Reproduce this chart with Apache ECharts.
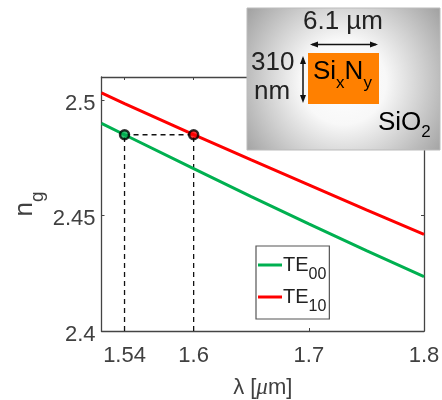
<!DOCTYPE html>
<html><head><meta charset="utf-8">
<style>html,body{margin:0;padding:0;background:#fff}#c{width:442px;height:400px}</style>
<script src="https://cdn.jsdelivr.net/npm/echarts@6/dist/echarts.min.js"></script>
</head><body><div id="c"></div>
<script>
const wavelengths = [1.52, 1.54, 1.6, 1.65, 1.7, 1.75, 1.8];
const te00 = [2.4899, 2.485, 2.4703, 2.4582, 2.4464, 2.4348, 2.4235];
const te10 = [2.5031, 2.4985, 2.485, 2.4741, 2.4633, 2.4525, 2.4418];
const xTicks = [1.54, 1.6, 1.7, 1.8];
const yTicks = [2.4, 2.45, 2.5];
const markerX = [1.54, 1.6];
const markerY = 2.485;
const yBottom = 2.4;
const pair = (xs, ys) => xs.map((x, i) => [x, ys[i]]);
const font = 'Liberation Sans';
const chart = echarts.init(document.getElementById('c'), null, {renderer: 'canvas'});
const dash = d => ({type:'line', data:d, symbol:'none', silent:true, z:1,
  lineStyle:{color:'#111', width:1.3, type:[5,4]}});
const xAxisBase = {type:'value', min:1.52, max:1.8, splitLine:{show:false},
  axisLine:{show:true, lineStyle:{color:'#444', width:1.3}}};
const yAxisBase = {type:'value', min:2.4, max:2.51, splitLine:{show:false},
  axisLine:{show:true, lineStyle:{color:'#444', width:1.3}}};
const tick = v => ({show:true, inside:true, length:3, customValues:v, lineStyle:{color:'#444', width:1}});
chart.setOption({
  animation:false,
  backgroundColor:'#fff',
  grid:{left:101.5, right:18, top:77, bottom:69, outerBoundsMode:'none', containLabel:false},
  legend:{
    data:['TE00','TE10'], orient:'vertical', left:256, top:246,
    padding:[9,3,4,2], itemGap:4, itemWidth:24, itemHeight:3,
    backgroundColor:'#fff', borderColor:'#555', borderWidth:1.2, borderRadius:0,
    icon:'rect', selectedMode:false,
    formatter:n=>'{a|TE}{b|'+n.slice(2)+'}',
    textStyle:{padding:[0,0,0,-4], rich:{
      a:{fontFamily:font,fontSize:20,color:'#222',lineHeight:36},
      b:{fontFamily:font,fontSize:16,color:'#222',verticalAlign:'bottom',lineHeight:16}
    }}
  },
  xAxis:[
    {...xAxisBase, position:'bottom', axisTick:tick(xTicks),
     name:'{r|λ [}{i|μ}{r|m]}', nameLocation:'middle', nameGap:45, nameMoveOverlap:false,
     nameTextStyle:{rich:{
       r:{fontFamily:font,fontSize:22,color:'#404040'},
       i:{fontFamily:'Liberation Serif',fontStyle:'italic',fontSize:23,color:'#404040'}}},
     axisLabel:{customValues:xTicks, margin:14, fontFamily:font, fontSize:22, color:'#404040',
       formatter:v=>String(v)}},
    {...xAxisBase, position:'top', axisTick:tick(xTicks), axisLabel:{show:false}}
  ],
  yAxis:[
    {...yAxisBase, position:'left', axisTick:tick(yTicks),
     name:'{a|n}{b|g}', nameLocation:'middle', nameGap:54, nameMoveOverlap:false,
     nameTextStyle:{rich:{
       a:{fontFamily:font,fontSize:26,color:'#404040',lineHeight:46},
       b:{fontFamily:font,fontSize:19,color:'#404040',verticalAlign:'bottom'}}},
     axisLabel:{customValues:yTicks, margin:6, fontFamily:font, color:'#404040',
       formatter:v=>'{a|'+v+'}',
       rich:{a:{fontFamily:font,fontSize:22,color:'#404040',padding:[7,0,0,0]}}}},
    {...yAxisBase, position:'right', axisTick:tick(yTicks), axisLabel:{show:false}}
  ],
  series:[
    dash([[markerX[0],yBottom],[markerX[0],markerY]]),
    dash([[markerX[1],yBottom],[markerX[1],markerY]]),
    dash([[markerX[0],markerY],[markerX[1],markerY]]),
    {name:'TE00', type:'line', data:pair(wavelengths,te00), symbol:'none', z:2,
     lineStyle:{color:'#00b050', width:3}, itemStyle:{color:'#00b050'}},
    {name:'TE10', type:'line', data:pair(wavelengths,te10), symbol:'none', z:2,
     lineStyle:{color:'#ff0000', width:3}, itemStyle:{color:'#ff0000'}},
    {type:'scatter', data:[[markerX[0],markerY]], symbolSize:9, z:3, silent:true,
     itemStyle:{color:'#00b050', borderColor:'#000', borderWidth:2.5}},
    {type:'scatter', data:[[markerX[1],markerY]], symbolSize:9, z:3, silent:true,
     itemStyle:{color:'#ff0000', borderColor:'#000', borderWidth:2.5}}
  ],
  graphic:[
    {type:'rect', z:50, shape:{x:247,y:8,width:193,height:142},
     style:{stroke:'#bbb', lineWidth:1, fill:{type:'radial',x:0.5,y:0.52,r:0.85,
       colorStops:[{offset:0,color:'#ffffff'},{offset:0.35,color:'#f8f8f8'},{offset:0.65,color:'#d0d0d0'},{offset:1,color:'#a0a0a0'}]}}},
    {type:'rect', z:51, shape:{x:308,y:53,width:71,height:51}, style:{fill:'#ff8000'}},
    {type:'text', z:52, left:303, top:9, style:{text:'6.1 µm', fontFamily:font, fontSize:26, fill:'#222'}},
    {type:'text', z:52, left:251, top:50, style:{text:'310', fontFamily:font, fontSize:26, fill:'#222'}},
    {type:'text', z:52, left:254, top:79, style:{text:'nm', fontFamily:font, fontSize:26, fill:'#222'}},
    {type:'text', z:52, left:313, top:59, style:{text:'{a|Si}{b|x}{a|N}{b|y}', rich:{
      a:{fontFamily:font,fontSize:26,color:'#222',lineHeight:39},
      b:{fontFamily:font,fontSize:17,color:'#222',verticalAlign:'bottom'}}}},
    {type:'text', z:52, left:378, top:110, style:{text:'{a|SiO}{b|2}', rich:{
      a:{fontFamily:font,fontSize:26,color:'#222',lineHeight:35},
      b:{fontFamily:font,fontSize:17,color:'#222',verticalAlign:'bottom'}}}},
    {type:'line', z:52, shape:{x1:312,y1:44.5,x2:376,y2:44.5}, style:{stroke:'#111',lineWidth:1.5}},
    {type:'polygon', z:52, shape:{points:[[310,44.5],[318,41.5],[318,47.5]]}, style:{fill:'#111'}},
    {type:'polygon', z:52, shape:{points:[[378,44.5],[370,41.5],[370,47.5]]}, style:{fill:'#111'}},
    {type:'line', z:52, shape:{x1:303,y1:58,x2:303,y2:100}, style:{stroke:'#111',lineWidth:1.5}},
    {type:'polygon', z:52, shape:{points:[[303,56],[300,64],[306,64]]}, style:{fill:'#111'}},
    {type:'polygon', z:52, shape:{points:[[303,103],[300,95],[306,95]]}, style:{fill:'#111'}}
  ]
});
</script></body></html>
